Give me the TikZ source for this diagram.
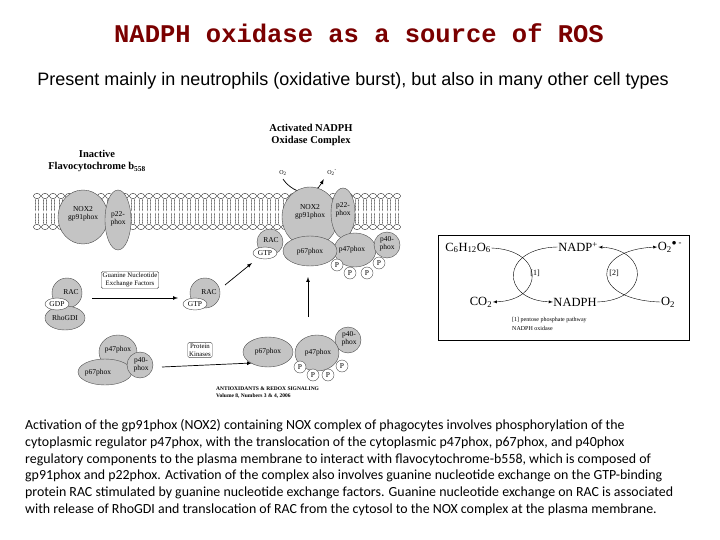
\documentclass[tikz,border=0pt]{standalone}
\usepackage{fontspec}
\setmainfont{Liberation Serif}
\newfontfamily\titlefont{Liberation Mono}
\newfontfamily\arialf{Liberation Sans}
\newfontfamily\bodyf{Carlito}
\definecolor{prot}{HTML}{C4C4C4}
\definecolor{ttl}{HTML}{7A0000}
\begin{document}
\begin{tikzpicture}[x=1pt,y=-1pt,
  prot/.style={draw=black!70,fill=prot,line width=0.4pt},
  wsmall/.style={draw=black!70,fill=white,line width=0.4pt},
  lbl/.style={font=\fontsize{7.5}{7.8}\selectfont,align=center,inner sep=0pt},
  arr/.style={-latex,line width=0.7pt},
  boxed/.style={draw=black!70,rounded corners=1.5pt,fill=white,font=\fontsize{6.8}{7.8}\selectfont,align=center,inner sep=1.5pt},
  body/.style={anchor=west,font=\bodyf\fontsize{13.9}{14}\selectfont,inner sep=0pt},
  rtxt/.style={font=\fontsize{12.5}{13}\selectfont,inner sep=0.5pt}]
\useasboundingbox (0,0) rectangle (720,540);
\node[font=\titlefont\bfseries\fontsize{25.5}{28}\selectfont,text=ttl] (title) at (359,33) {NADPH oxidase as a source of ROS};
\node[font=\arialf\fontsize{18}{20}\selectfont] (sub) at (353,81) {Present mainly in neutrophils (oxidative burst), but also in many other cell types};
% membrane
\foreach \x in {37,45,...,403}{
  \draw[line width=0.3pt] (\x-1.2,199)--(\x-1.8,205)--(\x-1.2,211); \draw[line width=0.3pt] (\x+1.2,199)--(\x+1.8,205)--(\x+1.2,211);
  \draw[line width=0.3pt] (\x-1.2,213)--(\x-1.8,219)--(\x-1.2,224); \draw[line width=0.3pt] (\x+1.2,213)--(\x+1.8,219)--(\x+1.2,224);
  \draw[line width=0.3pt,fill=white] (\x,196) ellipse (3.6 and 2.6);
  \draw[line width=0.3pt,fill=white] (\x,227) ellipse (3.6 and 2.6);
}
\node[font=\bfseries\fontsize{10.5}{12.5}\selectfont,align=center] (inact) at (97,161) {Inactive\\Flavocytochrome b\textsubscript{558}};
\node[font=\bfseries\fontsize{10.5}{12.5}\selectfont,align=center] (act) at (311,135) {Activated NADPH\\Oxidase Complex};
\node[font=\fontsize{6}{7}\selectfont] (o2a) at (283,173) {O\textsubscript{2}};
\node[font=\fontsize{6}{7}\selectfont] (o2b) at (332,173) {O\textsubscript{2}\textsuperscript{-}};
\draw[arr] (o2a.south) .. controls (295,196) and (315,196) .. (o2b.south west);
% left inactive
\draw[prot] (83,217) ellipse (25 and 27); \node[lbl] (nox2a) at (83,214) {NOX2\\gp91phox};
\draw[prot] (118,220) ellipse (13 and 30); \node[lbl] (p22a) at (118,219) {p22-\\phox};
% right active
\draw[prot] (310,217) ellipse (28 and 30); \node[lbl] (nox2b) at (310,212) {NOX2\\gp91phox};
\draw[prot] (343,213) ellipse (12 and 25); \node[lbl] (p22b) at (343,210) {p22-\\phox};
\draw[prot] (355,250) ellipse (21 and 17); \node[lbl] (p47b) at (352,250) {p47phox};
\draw[prot] (387,245) circle (13); \node[lbl] (p40b) at (387,244) {p40-\\phox};
\draw[prot] (310,251) ellipse (27 and 15); \node[lbl] (p67b) at (310,252) {p67phox};
\draw[prot] (270,242) circle (13); \node[lbl] (racb) at (271,240) {RAC};
\draw[wsmall] (265,253) ellipse (12 and 6); \node[lbl] (gtpb) at (265,253) {GTP};
\foreach \px/\py [count=\i] in {337/265,350/273,367/273,379/263}{
  \draw[wsmall] (\px,\py) circle (6); \node[lbl] (pb\i) at (\px,\py) {P};}
% GEF
\node[boxed] (gef) at (130,280) {Guanine Nucleotide\\Exchange Factors};
\draw[prot] (67,293) circle (15); \node[lbl] (raca) at (71,292) {RAC};
\draw[prot] (65,318) ellipse (20 and 12); \node[lbl] (rhogdi) at (65,318) {RhoGDI};
\draw[wsmall] (57,304) ellipse (12 and 6); \node[lbl] (gdp) at (57,304) {GDP};
\draw[prot] (205,293) circle (15); \node[lbl] (racm) at (209,292) {RAC};
\draw[wsmall] (195,304) ellipse (12 and 6); \node[lbl] (gtpm) at (195,304) {GTP};
\coordinate (a1s) at (92,298); \coordinate (a1e) at (178,298);
\draw[arr] (a1s) -- (a1e);
\coordinate (a2s) at (225,285); \coordinate (a2e) at (252,263);
\draw[arr] (a2s) -- (a2e);
\coordinate (a3s) at (308,317); \coordinate (a3e) at (308,277);
\draw[arr] (a3s) -- (a3e);
% bottom left
\draw[prot] (118,352) ellipse (19 and 17); \node[lbl] (p47a) at (118,350) {p47phox};
\draw[prot] (105,372) ellipse (27 and 13); \node[lbl] (p67a) at (98,373) {p67phox};
\draw[prot] (140,365) circle (13); \node[lbl] (p40a) at (141,365) {p40-\\phox};
\node[boxed] (pk) at (200,350) {Protein\\Kinases};
\coordinate (a4s) at (162,367); \coordinate (a4e) at (252,363);
\draw[arr] (a4s) -- (a4e);
% bottom right
\draw[prot] (268,352) ellipse (25 and 15); \node[lbl] (p67c) at (268,352) {p67phox};
\draw[prot] (348,340) circle (13); \node[lbl] (p40c) at (349,339) {p40-\\phox};
\draw[prot] (317,353) ellipse (22 and 18); \node[lbl] (p47c) at (318,353) {p47phox};
\foreach \px/\py [count=\i] in {300/367,313/375,328/375,342/366}{
  \draw[wsmall] (\px,\py) circle (6); \node[lbl] (pc\i) at (\px,\py) {P};}
\node[anchor=west,font=\bfseries\fontsize{5.5}{7}\selectfont,align=left,inner sep=0pt] (cite) at (216,393) {ANTIOXIDANTS \& REDOX SIGNALING\\Volume 8, Numbers 3 \& 4, 2006};
% right box
\draw[line width=0.5pt] (438,235) rectangle (689,340);
\node[rtxt] (c6) at (468,248) {C\textsubscript{6}H\textsubscript{12}O\textsubscript{6}};
\node[rtxt] (nadp) at (578,247) {NADP\textsuperscript{+}};
\node[rtxt] (o2r) at (670,247) {O\textsubscript{2}\textsuperscript{$\bullet$ -}};
\node[rtxt] (co2) at (481,302) {CO\textsubscript{2}};
\node[rtxt] (nadph) at (575,302) {NADPH};
\node[rtxt] (o2s) at (668,302) {O\textsubscript{2}};
\node[font=\fontsize{8}{9}\selectfont] (l1) at (535,273) {[1]};
\node[font=\fontsize{8}{9}\selectfont] (l2) at (614,273) {[2]};
\draw[-latex,line width=0.4pt] (c6.east) .. controls (545,250) and (545,300) .. (co2.east);
\draw[-latex,line width=0.4pt] (nadp.west) .. controls (500,248) and (500,300) .. (nadph.west);
\draw[-latex,line width=0.4pt] (nadph.east) .. controls (650,300) and (650,250) .. (nadp.east);
\draw[-latex,line width=0.4pt] (o2s.west) .. controls (590,300) and (590,250) .. (o2r.west);
\node[anchor=west,font=\fontsize{6}{7}\selectfont,align=left,inner sep=0pt] (leg) at (512,324) {[1] pentose phosphate pathway\\[2] NADPH oxidase};
% body
\node[body] (b1) at (25,426) {Activation of the gp91phox (NOX2) containing NOX complex of phagocytes involves phosphorylation of the};
\node[body] (b2) at (25,443) {cytoplasmic regulator p47phox, with the translocation of the cytoplasmic p47phox, p67phox, and p40phox};
\node[body] (b3) at (25,460) {regulatory components to the plasma membrane to interact with flavocytochrome-b558, which is composed of};
\node[body] (b4) at (25,476) {gp91phox and p22phox. Activation of the complex also involves guanine nucleotide exchange on the GTP-binding};
\node[body] (b5) at (25,493) {protein RAC stimulated by guanine nucleotide exchange factors. Guanine nucleotide exchange on RAC is associated};
\node[body] (b6) at (25,510) {with release of RhoGDI and translocation of RAC from the cytosol to the NOX complex at the plasma membrane.};
\end{tikzpicture}
\end{document}
